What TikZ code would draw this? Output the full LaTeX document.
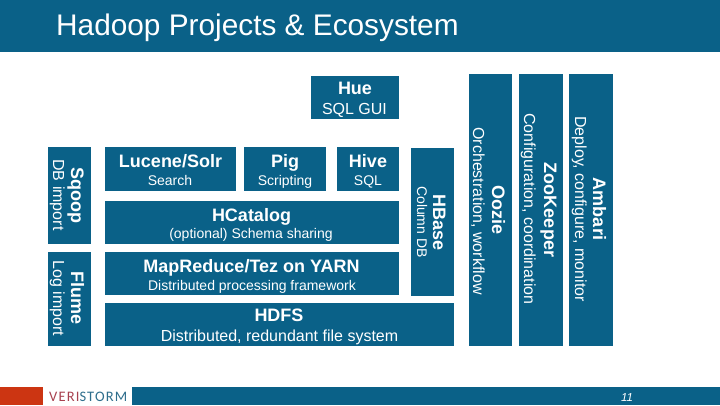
\documentclass[tikz,border=0pt]{standalone}
\usepackage{fontspec}
\setmainfont{Liberation Sans}
\newfontfamily\logofont[LetterSpace=8]{Carlito}
\definecolor{blu}{HTML}{0A6188}
\definecolor{red1}{HTML}{CC3512}
\definecolor{logored}{HTML}{A8414F}
\definecolor{logoteal}{HTML}{2E6E8C}
\tikzset{x=1pt,y=-1pt,
 box/.style={fill=blu,draw=none,inner sep=0pt,outer sep=0pt},
 big/.style={text=white,font=\fontsize{18}{18}\selectfont\bfseries,inner sep=0pt,anchor=base},
 small/.style={text=white,font=\fontsize{14}{14}\selectfont,inner sep=0pt,anchor=base},
 large/.style={text=white,font=\fontsize{16}{16}\selectfont,inner sep=0pt,anchor=base},
 bigv/.style={big,rotate=-90},
 largev/.style={large,rotate=-90},
 smallv/.style={small,rotate=-90}}
\begin{document}
\begin{tikzpicture}
\useasboundingbox (0,0) rectangle (720,405);
\fill[white] (0,0) rectangle (720,405);
\fill[box] (0,0) rectangle (720,52);
\node[text=white,anchor=base west,inner sep=0pt,font=\fontsize{29.8}{29.8}\selectfont] (title) at (56,35) {Hadoop Projects \& Ecosystem};
% footer
\fill[red1] (0,387) rectangle (43,405);
\fill[box] (132,387) rectangle (720,405);
\node[anchor=base west,inner sep=0pt,font=\logofont\fontsize{14.5}{14.5}\selectfont,text=logored] (logo) at (49,401) {VERI\textcolor{logoteal}{STORM}};
\node[anchor=base,inner sep=0pt,font=\fontsize{11.5}{11.5}\selectfont\itshape,text=white] (pg) at (627,401) {11};
% boxes
\fill[box] (311,76) rectangle (399,119);
\fill[box] (48,147) rectangle (91,244);
\fill[box] (48,252) rectangle (91,346);
\fill[box] (105,147) rectangle (236,191);
\fill[box] (244,147) rectangle (326,191);
\fill[box] (337,147) rectangle (399,191);
\fill[box] (105,201) rectangle (399,244);
\fill[box] (105,252) rectangle (399,295);
\fill[box] (105,303) rectangle (454,346);
\fill[box] (411,148) rectangle (454,296);
\fill[box] (469,74) rectangle (512,346);
\fill[box] (519,74) rectangle (563,346);
\fill[box] (569,74) rectangle (613,346);
% horizontal labels
\node[big] (hue) at (355,94) {Hue};
\node[large] (hues) at (354.5,114) {SQL GUI};
\node[big] (luc) at (170.5,167) {Lucene/Solr};
\node[small] (lucs) at (170,185) {Search};
\node[big] (pig) at (285,167) {Pig};
\node[small] (pigs) at (285,185) {Scripting};
\node[big] (hive) at (368,167) {Hive};
\node[small] (hives) at (368,185) {SQL};
\node[big] (hcat) at (251.5,221.5) {HCatalog};
\node[small] (hcats) at (251,238) {(optional) Schema sharing};
\node[big] (mr) at (251.5,272) {Map\-Reduce/Tez on YARN};
\node[small] (mrs) at (252,290) {Distributed processing framework};
\node[big] (hdfs) at (279,321) {HDFS};
\node[large] (hdfss) at (279.5,341) {Distributed, redundant file system};
% vertical labels
\node[bigv] (sq) at (71,195) {Sqoop};
\node[largev] (sqs) at (53,195) {DB import};
\node[bigv] (fl) at (71,298) {Flume};
\node[largev] (fls) at (53,298.5) {Log import};
\node[bigv] (hb) at (433,222.5) {HBase};
\node[smallv] (hbs) at (417,222) {Column DB};
\node[bigv] (oo) at (492,210) {Oozie};
\node[largev] (oos) at (473,211) {Orchestration, workflow};
\node[bigv] (zk) at (544,210) {ZooKeeper};
\node[largev] (zks) at (524,209) {Configuration, coordination};
\node[bigv] (am) at (593,209) {Ambari};
\node[largev] (ams) at (575,209) {Deploy, configure, monitor};
\end{tikzpicture}
\end{document}
